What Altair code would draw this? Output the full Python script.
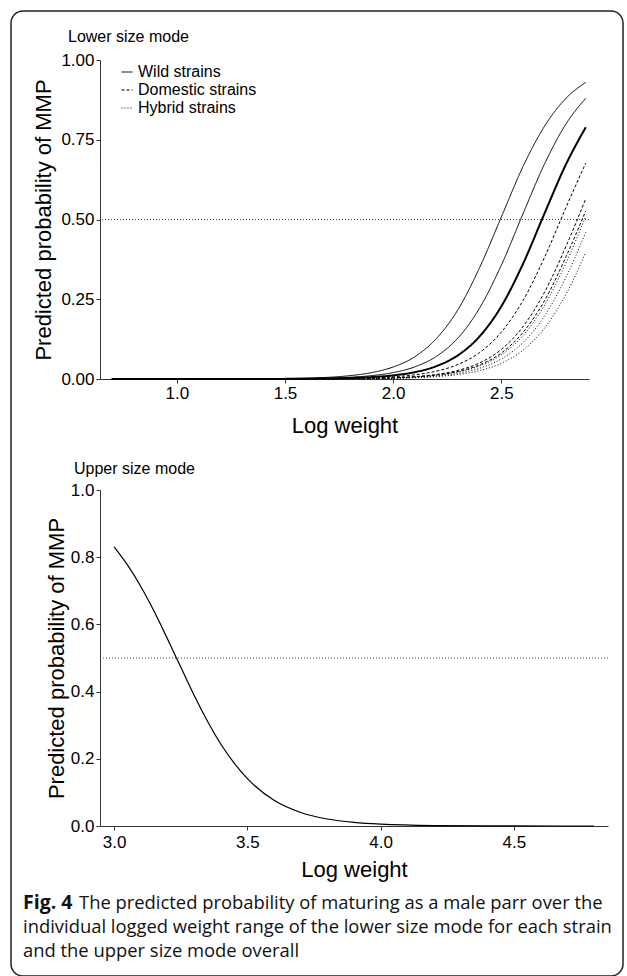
import altair as alt
import pandas as pd

# ---------------- data ----------------
groups = ["Wild strains", "Domestic strains", "Hybrid strains"]

xs_lower = [0.70, 1.40, 1.60, 1.80, 1.90, 2.00, 2.10, 2.20, 2.30, 2.40, 2.50, 2.60, 2.70, 2.80, 2.89]

wild_1 = [0.0000, 0.0008, 0.0028, 0.0105, 0.0199, 0.0377, 0.0698, 0.127, 0.218, 0.350, 0.508, 0.666, 0.793, 0.881, 0.930]
wild_2 = [0.0000, 0.0004, 0.0015, 0.0054, 0.0105, 0.0200, 0.0381, 0.0711, 0.129, 0.223, 0.357, 0.518, 0.675, 0.801, 0.880]
wild_3 = [0.0000, 0.0002, 0.0009, 0.0031, 0.0059, 0.0113, 0.0215, 0.0404, 0.0746, 0.134, 0.228, 0.361, 0.520, 0.675, 0.789]
dom_1 = [0.0000, 0.0002, 0.0005, 0.0019, 0.0037, 0.0070, 0.0131, 0.0246, 0.0457, 0.0832, 0.147, 0.246, 0.382, 0.540, 0.677]
dom_2 = [0.0000, 0.0001, 0.0003, 0.0011, 0.0021, 0.0040, 0.0075, 0.0143, 0.0271, 0.0506, 0.0928, 0.164, 0.273, 0.418, 0.565]
dom_3 = [0.0000, 0.0001, 0.0003, 0.0009, 0.0018, 0.0034, 0.0066, 0.0125, 0.0237, 0.0444, 0.0816, 0.146, 0.246, 0.385, 0.527]
hyb_1 = [0.0000, 0.0001, 0.0002, 0.0009, 0.0017, 0.0032, 0.0061, 0.0115, 0.0219, 0.0411, 0.0759, 0.136, 0.232, 0.366, 0.510]
hyb_2 = [0.0000, 0.0000, 0.0002, 0.0007, 0.0014, 0.0026, 0.0050, 0.0095, 0.0180, 0.0339, 0.0630, 0.114, 0.198, 0.321, 0.460]
hyb_3 = [0.0000, 0.0000, 0.0001, 0.0006, 0.0010, 0.0020, 0.0038, 0.0073, 0.0139, 0.0263, 0.0493, 0.0903, 0.160, 0.267, 0.397]

xs_upper = [3.00, 3.05, 3.10, 3.15, 3.20, 3.25, 3.30, 3.40, 3.50, 3.60, 3.70, 3.80, 3.90, 4.00, 4.20, 4.50, 4.80]
upper = [0.831, 0.777, 0.713, 0.639, 0.557, 0.473, 0.389, 0.244, 0.141, 0.0765, 0.0403, 0.0208, 0.0107, 0.0054, 0.0014, 0.0002, 0.0000]

lower_ticks = [1.0, 1.5, 2.0, 2.5]
lower_yticks = [0.0, 0.25, 0.5, 0.75, 1.0]
upper_ticks = [3.0, 3.5, 4.0, 4.5]
upper_yticks = [0.0, 0.2, 0.4, 0.6, 0.8, 1.0]

panel_titles = ["Lower size mode", "Upper size mode"]
caption_bold = "Fig. 4"
caption_lines = [
    "The predicted probability of maturing as a male parr over the",
    "individual logged weight range of the lower size mode for each strain",
    "and the upper size mode overall",
]

# ---------------- tables ----------------
series = [
    ("w1", groups[0], 1.0, wild_1),
    ("w2", groups[0], 1.0, wild_2),
    ("w3", groups[0], 2.0, wild_3),
    ("d1", groups[1], 1.0, dom_1),
    ("d2", groups[1], 1.0, dom_2),
    ("d3", groups[1], 1.0, dom_3),
    ("h1", groups[2], 1.0, hyb_1),
    ("h2", groups[2], 1.0, hyb_2),
    ("h3", groups[2], 1.0, hyb_3),
]
rows = []
for name, grp, w, vals in series:
    for x, p in zip(xs_lower, vals):
        rows.append({"x": x, "p": p, "curve": name, "group": grp, "w": w})
lower_df = pd.DataFrame(rows)
upper_df = pd.DataFrame({"x": xs_upper, "p": upper})
one = pd.DataFrame({"a": [0]})

FONT = "Liberation Sans"
CAP_FONT = "Open Sans"
CAP_SIZE = 18.4

# ---------------- top panel ----------------
border = alt.Chart(one).mark_rect(
    fillOpacity=0, stroke="#222222", strokeWidth=1.5, cornerRadius=12
).encode(
    x=alt.value(-89), x2=alt.value(523), y=alt.value(-49), y2=alt.value(916)
)

title_top = alt.Chart(one).mark_text(
    text=panel_titles[0], font=FONT, fontSize=16, align="left",
    baseline="alphabetic", color="black",
).encode(x=alt.value(-32), y=alt.value(-18))

ref_top = alt.Chart(one).mark_rule(
    strokeDash=[1, 2], color="#444444", strokeWidth=1
).encode(y=alt.datum(0.5))

lines = alt.Chart(lower_df).mark_line(color="black", interpolate="monotone").encode(
    x=alt.X(
        "x:Q",
        scale=alt.Scale(domain=[0.645, 2.905], nice=False, zero=False),
        axis=alt.Axis(values=lower_ticks, format=".1f", title="Log weight",
                      labelPadding=2, titlePadding=14),
    ),
    y=alt.Y(
        "p:Q",
        scale=alt.Scale(domain=[0, 1], nice=False),
        axis=alt.Axis(values=lower_yticks, format=".2f",
                      title="Predicted probability of MMP", titlePadding=5),
    ),
    strokeDash=alt.StrokeDash(
        "group:N",
        scale=alt.Scale(domain=groups, range=[[1, 0], [3, 2], [1, 2]]),
        legend=alt.Legend(
            title=None, orient="none", legendX=19, legendY=4,
            symbolType="stroke", symbolSize=121, symbolStrokeWidth=1,
            symbolStrokeColor="black", labelFont=FONT, labelFontSize=16,
            labelColor="black", labelOffset=3, rowPadding=2, padding=0,
        ),
    ),
    strokeWidth=alt.StrokeWidth("w:Q", scale=None, legend=None),
    detail="curve:N",
)

top = alt.layer(border, title_top, ref_top, lines).properties(width=489, height=319)

# ---------------- bottom panel ----------------
title_bot = alt.Chart(one).mark_text(
    text=panel_titles[1], font=FONT, fontSize=16, align="left",
    baseline="alphabetic", color="black",
).encode(x=alt.value(-26), y=alt.value(-16))

ref_bot = alt.Chart(one).mark_rule(
    strokeDash=[1, 2], color="#444444", strokeWidth=1
).encode(y=alt.datum(0.5))

curve = alt.Chart(upper_df).mark_line(
    color="black", strokeWidth=1.2, interpolate="monotone"
).encode(
    x=alt.X(
        "x:Q",
        scale=alt.Scale(domain=[2.947, 4.853], nice=False, zero=False),
        axis=alt.Axis(values=upper_ticks, format=".1f", title="Log weight",
                      labelPadding=4, titlePadding=9),
    ),
    y=alt.Y(
        "p:Q",
        scale=alt.Scale(domain=[0, 1], nice=False),
        axis=alt.Axis(values=upper_yticks, format=".1f",
                      title="Predicted probability of MMP", titlePadding=2),
    ),
)

cap_bold = alt.Chart(one).mark_text(
    text=caption_bold, font=CAP_FONT, fontSize=19.5, fontWeight="bold",
    align="left", baseline="middle", color="#111111",
).encode(x=alt.value(-77), y=alt.value(413))

cap_rows = []
for i, t in enumerate(caption_lines):
    cap_rows.append(
        alt.Chart(one).mark_text(
            text=t, font=CAP_FONT, fontSize=CAP_SIZE, align="left",
            baseline="middle", color="#111111",
        ).encode(x=alt.value(-21 if i == 0 else -77), y=alt.value(413 + 24 * i))
    )

bottom = alt.layer(title_bot, ref_bot, curve, cap_bold, *cap_rows).properties(
    width=508, height=336
)

chart = (
    alt.vconcat(top, bottom, spacing=111, bounds="flush")
    .properties(padding={"left": 10, "top": 10, "right": 0, "bottom": 0})
    .configure_view(strokeWidth=0)
    .configure_axis(
        labelFont=FONT, labelFontSize=17, labelColor="black",
        titleFont=FONT, titleFontSize=22, titleFontWeight="normal", titleColor="black",
        domainColor="#333333", tickColor="#333333", tickSize=4, grid=False,
        labelFlush=False,
    )
    .configure_legend(labelFont=FONT)
)

chart.save("out.html", embed_options={"renderer": "svg", "actions": False})
